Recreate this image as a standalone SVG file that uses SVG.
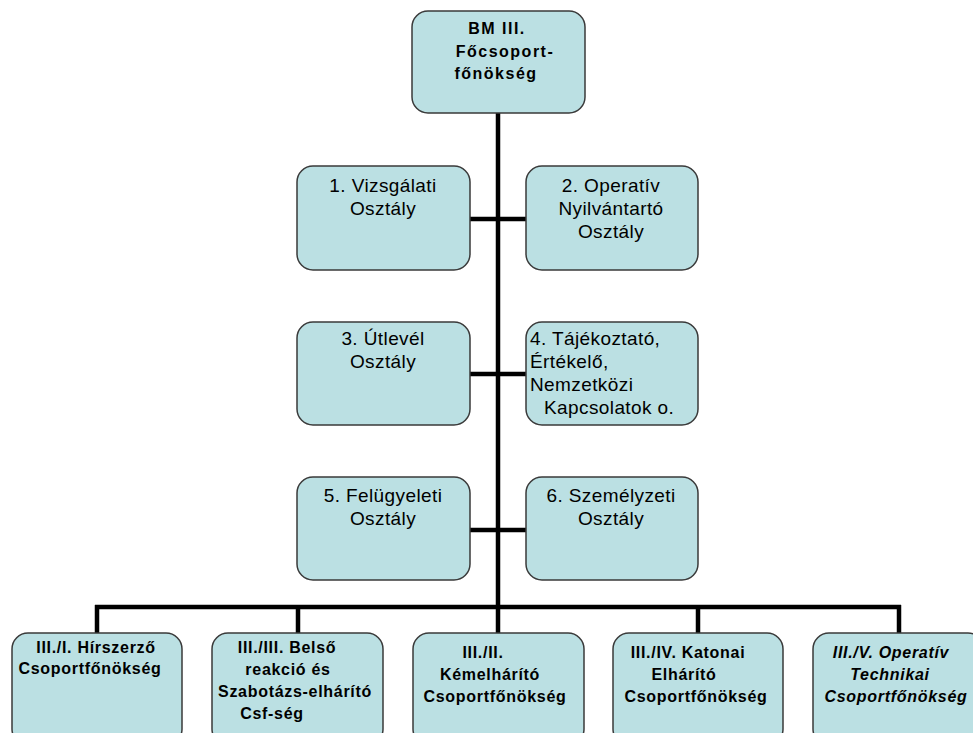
<svg xmlns="http://www.w3.org/2000/svg" width="973" height="733" viewBox="0 0 973 733">
<style>
.box{fill:#BBE0E3;stroke:#3a3a3a;stroke-width:1.5}
.mid{font-family:"Liberation Sans",Arial,sans-serif;font-size:19px;letter-spacing:0.4px;fill:#000;text-anchor:middle}
.mid.st{text-anchor:start}
.top{font-family:"Liberation Sans",Arial,sans-serif;font-size:16px;font-weight:bold;letter-spacing:1.5px;fill:#000;text-anchor:middle}
.bot{font-family:"Liberation Sans",Arial,sans-serif;font-size:16px;font-weight:bold;letter-spacing:0.7px;fill:#000;text-anchor:middle}
.it{font-style:italic}
.ln{stroke:#000;stroke-width:4.5;fill:none}
</style>
<rect width="973" height="733" fill="#fff"/>
<g id="connectors">
<line class="ln" x1="498" y1="113" x2="498" y2="607"/>
<line class="ln" x1="470" y1="219" x2="526" y2="219"/>
<line class="ln" x1="470" y1="374" x2="526" y2="374"/>
<line class="ln" x1="470" y1="530" x2="526" y2="530"/>
<line class="ln" x1="95" y1="607" x2="901" y2="607"/>
<line class="ln" x1="97" y1="605" x2="97" y2="633"/>
<line class="ln" x1="298" y1="605" x2="298" y2="633"/>
<line class="ln" x1="498" y1="605" x2="498" y2="633"/>
<line class="ln" x1="698" y1="605" x2="698" y2="633"/>
<line class="ln" x1="899" y1="605" x2="899" y2="633"/>
</g>
<g id="n-top">
<rect class="box" x="412" y="11" width="173" height="102" rx="16"/>
<text class="top" x="497" y="34">BM III.</text>
<text class="top" x="505" y="57">Főcsoport-</text>
<text class="top" x="496" y="79">főnökség</text>
</g>
<g id="n-1">
<rect class="box" x="297" y="166" width="173" height="104" rx="16"/>
<text class="mid" x="383" y="192">1. Vizsgálati</text>
<text class="mid" x="383" y="215">Osztály</text>
</g>
<g id="n-2">
<rect class="box" x="526" y="166" width="172" height="104" rx="16"/>
<text class="mid" x="611" y="192">2. Operatív</text>
<text class="mid" x="611" y="215">Nyilvántartó</text>
<text class="mid" x="611" y="238">Osztály</text>
</g>
<g id="n-3">
<rect class="box" x="297" y="322" width="173" height="103" rx="16"/>
<text class="mid" x="383" y="345">3. Útlevél</text>
<text class="mid" x="383" y="368">Osztály</text>
</g>
<g id="n-4">
<rect class="box" x="526" y="322" width="172" height="103" rx="16"/>
<text class="mid st" x="530" y="345">4. Tájékoztató,</text>
<text class="mid st" x="530" y="368">Értékelő,</text>
<text class="mid st" x="530" y="391">Nemzetközi</text>
<text class="mid st" x="544" y="414">Kapcsolatok o.</text>
</g>
<g id="n-5">
<rect class="box" x="297" y="477" width="173" height="103" rx="16"/>
<text class="mid" x="383" y="502">5. Felügyeleti</text>
<text class="mid" x="383" y="525">Osztály</text>
</g>
<g id="n-6">
<rect class="box" x="526" y="477" width="172" height="103" rx="16"/>
<text class="mid" x="611" y="502">6. Személyzeti</text>
<text class="mid" x="611" y="525">Osztály</text>
</g>
<g id="n-b1">
<rect class="box" x="12" y="633" width="170" height="112" rx="16"/>
<text class="bot" x="96" y="653">III./I. Hírszerző</text>
<text class="bot" x="90" y="674">Csoportfőnökség</text>
</g>
<g id="n-b2">
<rect class="box" x="212" y="633" width="171" height="112" rx="16"/>
<text class="bot" x="287" y="653">III./III. Belső</text>
<text class="bot" x="288" y="675">reakció és</text>
<text class="bot" x="295" y="697">Szabotázs-elhárító</text>
<text class="bot" x="272" y="719">Csf-ség</text>
</g>
<g id="n-b3">
<rect class="box" x="413" y="633" width="171" height="112" rx="16"/>
<text class="bot" x="483" y="658">III./II.</text>
<text class="bot" x="490" y="680">Kémelhárító</text>
<text class="bot" x="495" y="702">Csoportfőnökség</text>
</g>
<g id="n-b4">
<rect class="box" x="613" y="633" width="170" height="112" rx="16"/>
<text class="bot" x="688" y="658">III./IV. Katonai</text>
<text class="bot" x="684" y="680">Elhárító</text>
<text class="bot" x="696" y="702">Csoportfőnökség</text>
</g>
<g id="n-b5">
<rect class="box" x="813" y="633" width="171" height="112" rx="16"/>
<text class="bot it" x="891" y="658">III./V. Operatív</text>
<text class="bot it" x="890" y="680">Technikai</text>
<text class="bot it" x="896" y="702">Csoportfőnökség</text>
</g>
</svg>
